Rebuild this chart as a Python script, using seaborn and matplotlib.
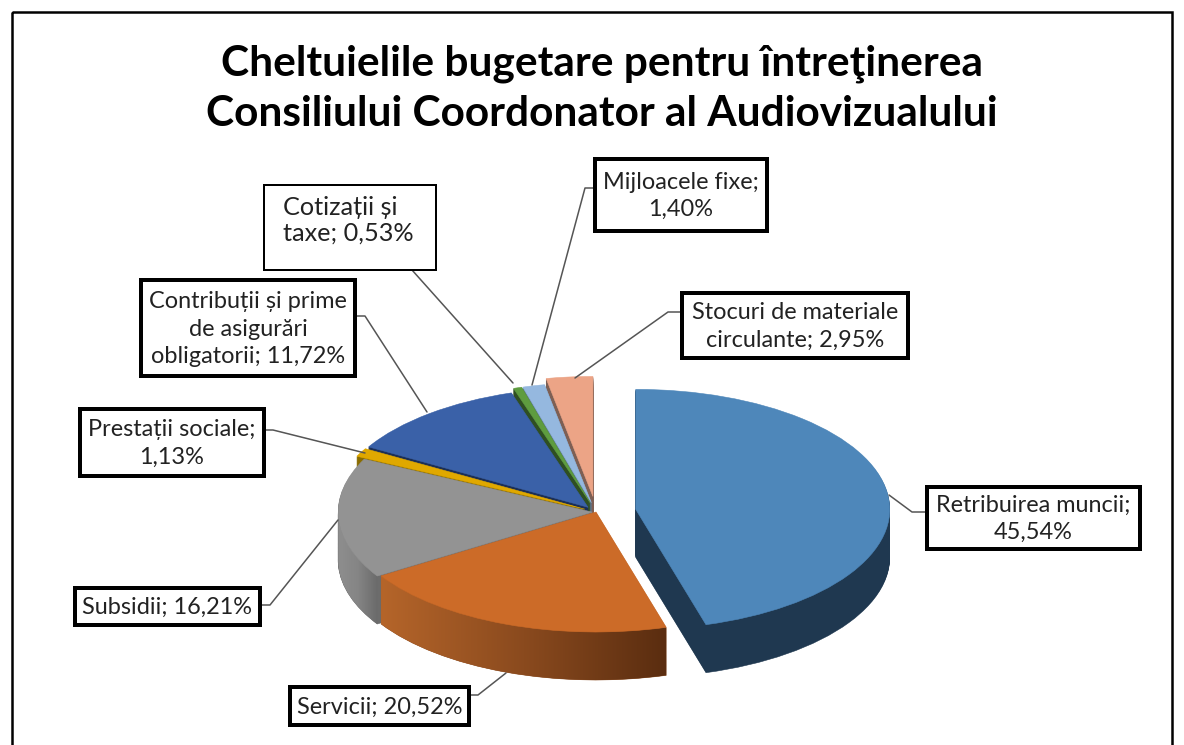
import textwrap

import numpy as np
import matplotlib
matplotlib.use("Agg")
import matplotlib.pyplot as plt
import seaborn as sns
from matplotlib.patches import Polygon, Rectangle
from matplotlib.transforms import Affine2D

title = "Cheltuielile bugetare pentru întreţinerea\nConsiliului Coordonator al Audiovizualului"

categories = ["Retribuirea muncii", "Servicii", "Subsidii", "Prestații sociale",
              "Contribuții și prime de asigurări obligatorii", "Cotizații și taxe",
              "Mijloacele fixe", "Stocuri de materiale circulante"]
values = [45.54, 20.52, 16.21, 1.13, 11.72, 0.53, 1.40, 2.95]

top_colors = ["#4e87ba", "#cc6b28", "#939393", "#e0a800", "#3a61a8", "#5e9c3f", "#95b8df", "#eca486"]
side_colors = ["#1f3850", "#8a4a1e", "#6c6c6c", "#8a6c00", "#1c2f55", "#2f4f22", "#5f7896", "#7d5f54"]
explode = [0.158, 0.0, 0.015, 0.05, 0.05, 0.08, 0.08, 0.13]
paint_order = [1, 7, 6, 5, 4, 3, 2, 0]  # back to front, higher is later
wrap = [19, 30, 30, 18, 20, 12, 16, 20]

# label boxes in pixels: left, top, right, bottom, edge width
boxes = [(927, 487, 1140, 549, 4.0), (290, 687, 469, 725, 4.0), (75, 588, 260, 625, 4.0),
         (80, 409, 264, 476, 4.0), (141, 280, 355, 376, 4.0), (264, 185, 436, 270, 2.0),
         (595, 159, 767, 231, 4.0), (682, 293, 908, 358, 4.0)]
leaders = [[(927, 512), (912, 512), (889, 495)], [(469, 695), (478, 695), (506, 673)],
           [(260, 605), (270, 605), (338, 520)], [(264, 430), (273, 430), (365, 453)],
           [(355, 316), (365, 316), (427, 412)], [(412, 270), (513, 383)],
           [(595, 188), (585, 188), (532, 385)], [(682, 312), (668, 312), (575, 378)]]

W, H = 1184, 745
cx, cy, rx, ry = 596, 512, 254, 120
depth = 48 / ry

sns.set_theme(style="white")
plt.rcParams["font.family"] = ["Lato", "DejaVu Sans"]

fig = plt.figure(figsize=(W / 100, H / 100), dpi=100, facecolor="white")
ax = fig.add_axes([0, 0, 1, 1])
px = Affine2D().scale(1, -1).translate(0, H)

# stack the pie downwards for the 3D look
for dz in np.linspace(depth, 0, 51):
    colors = top_colors if dz == 0 else side_colors
    wedges, _ = ax.pie(values, explode=explode, colors=colors, startangle=90, counterclock=False,
                       center=(0, -dz), radius=1)
    for i, w in enumerate(wedges):
        w.set_edgecolor(w.get_facecolor())
        w.set_linewidth(0.4)
        w.set_zorder(1 + paint_order[i] + (0.9 if dz == 0 else 0.4 * (1 - dz / depth)))

# rim shading for orange and grey
for i, shades in {1: ["#b5652a", "#8a4a1e", "#5a2d10"], 2: ["#8e8e8e", "#858585", "#6a6a6a"]}.items():
    w = wedges[i]
    t = np.radians(np.linspace(w.theta1, w.theta2, 200))
    t = t[np.sin(t) < 0.02]
    x = w.center[0] + np.cos(t)
    y = w.center[1] + np.sin(t)
    pts = np.vstack([np.c_[x, y], np.c_[x, y - depth][::-1]])
    z = 1 + paint_order[i] + 0.5
    im = ax.imshow(np.linspace(0, 1, 256)[None, :], extent=(x.min(), x.max(), pts[:, 1].min(), pts[:, 1].max()),
                   cmap=sns.blend_palette(shades, as_cmap=True), aspect="auto", zorder=z)
    im.set_clip_path(Polygon(pts, transform=ax.transData))

# one data unit is rx pixels across and ry pixels down
ax.set_aspect("auto")
ax.set_xlim(-cx / rx, (W - cx) / rx)
ax.set_ylim(-(H - cy) / ry, cy / ry)
ax.set_axis_off()

ax.add_patch(Rectangle((12, 12), 1160, 800, transform=px, fill=False, edgecolor="black", linewidth=1.8, zorder=20))

ax.text(602, 89, title, transform=px, ha="center", va="center", fontsize=30.5, fontweight="bold",
        color="black", linespacing=1.38, zorder=21)

for i, (name, value) in enumerate(zip(categories, values)):
    left, top, right, bottom, lw = boxes[i]
    xs, ys = zip(*leaders[i])
    ax.plot(xs, ys, transform=px, color="#555555", linewidth=1.1, zorder=12, scalex=False, scaley=False)
    ax.add_patch(Rectangle((left, top), right - left, bottom - top, transform=px, facecolor="white",
                           edgecolor="black", linewidth=lw * 0.72, zorder=13))
    label = textwrap.fill(f"{name}; {value:.2f}%".replace(".", ","), wrap[i])
    if name == "Cotizații și taxe":
        ax.text(283, 220, label, transform=px, ha="left", va="center", fontsize=18.2,
                color="#222222", linespacing=1.13, zorder=14)
    else:
        ax.text((left + right) / 2, (top + bottom) / 2 + 1, label, transform=px, ha="center", va="center",
                fontsize=16.9, color="#222222", linespacing=1.38, zorder=14)

fig.savefig("out.png", dpi=100, facecolor="white")
